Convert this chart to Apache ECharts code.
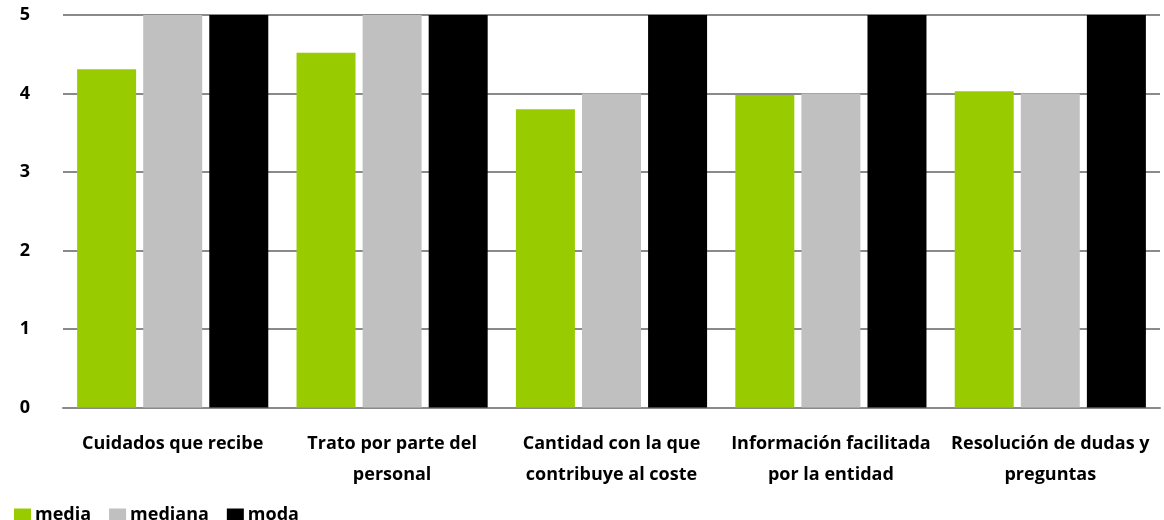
<!DOCTYPE html>
<html>
<head>
<meta charset="utf-8">
<script src="https://cdn.jsdelivr.net/npm/echarts@6/dist/echarts.min.js"></script>
<style>
  html, body { margin: 0; padding: 0; background: #ffffff; }
  #chart { width: 1164px; height: 520px; }
</style>
</head>
<body>
<div id="chart"></div>
<script>
// Survey ratings per aspect: mean, median and mode on a 0–5 scale
const categories = [
  'Cuidados que recibe',
  'Trato por parte del\npersonal',
  'Cantidad con la que\ncontribuye al coste',
  'Información facilitada\npor la entidad',
  'Resolución de dudas y\npreguntas'
];
const media   = [4.31, 4.52, 3.80, 3.98, 4.03];
const mediana = [5, 5, 4, 4, 4];
const moda    = [5, 5, 5, 5, 5];
const yTicks  = [0, 1, 2, 3, 4, 5];

const FONT = '"Open Sans", Lato, sans-serif';
const gridGray = '#8a8a8a';

const chart = echarts.init(document.getElementById('chart'), null, { renderer: 'canvas' });

function barSeries(name, data, color) {
  return {
    name: name,
    type: 'bar',
    data: data,
    barWidth: 59,
    barGap: '12%',
    itemStyle: { color: color },
    emphasis: { disabled: true }
  };
}

chart.setOption({
  animation: false,
  backgroundColor: '#ffffff',
  textStyle: { fontFamily: FONT },
  grid: { left: 63, right: 4, top: 15, bottom: 112.5, containLabel: false },
  legend: {
    left: 9,
    top: 501,
    itemWidth: 17,
    itemHeight: 13,
    itemGap: 18,
    icon: 'rect',
    textStyle: { fontFamily: FONT, fontSize: 18, fontWeight: 'bold', color: '#000', padding: [0, 0, 0, -1] },
    data: ['media', 'mediana', 'moda']
  },
  xAxis: {
    type: 'category',
    data: categories,
    axisTick: { show: false },
    axisLine: { show: true, lineStyle: { color: gridGray, width: 2 } },
    axisLabel: {
      interval: 0,
      margin: 21,
      fontFamily: FONT,
      fontSize: 18,
      fontWeight: 'bold',
      color: '#000',
      lineHeight: 31,
      align: 'center'
    }
  },
  yAxis: {
    type: 'value',
    min: 0,
    max: 5,
    interval: 1,
    axisLine: { show: false },
    axisTick: { show: false },
    splitLine: { show: true, lineStyle: { color: gridGray, width: 2 } },
    axisLabel: {
      margin: 33,
      fontFamily: FONT,
      fontSize: 18,
      fontWeight: 'bold',
      color: '#000',
      formatter: function (v) { return yTicks.indexOf(v) >= 0 ? String(v) : ''; }
    }
  },
  series: [
    barSeries('media', media, '#99cc00'),
    barSeries('mediana', mediana, '#c0c0c0'),
    barSeries('moda', moda, '#000000')
  ]
});
</script>
</body>
</html>
